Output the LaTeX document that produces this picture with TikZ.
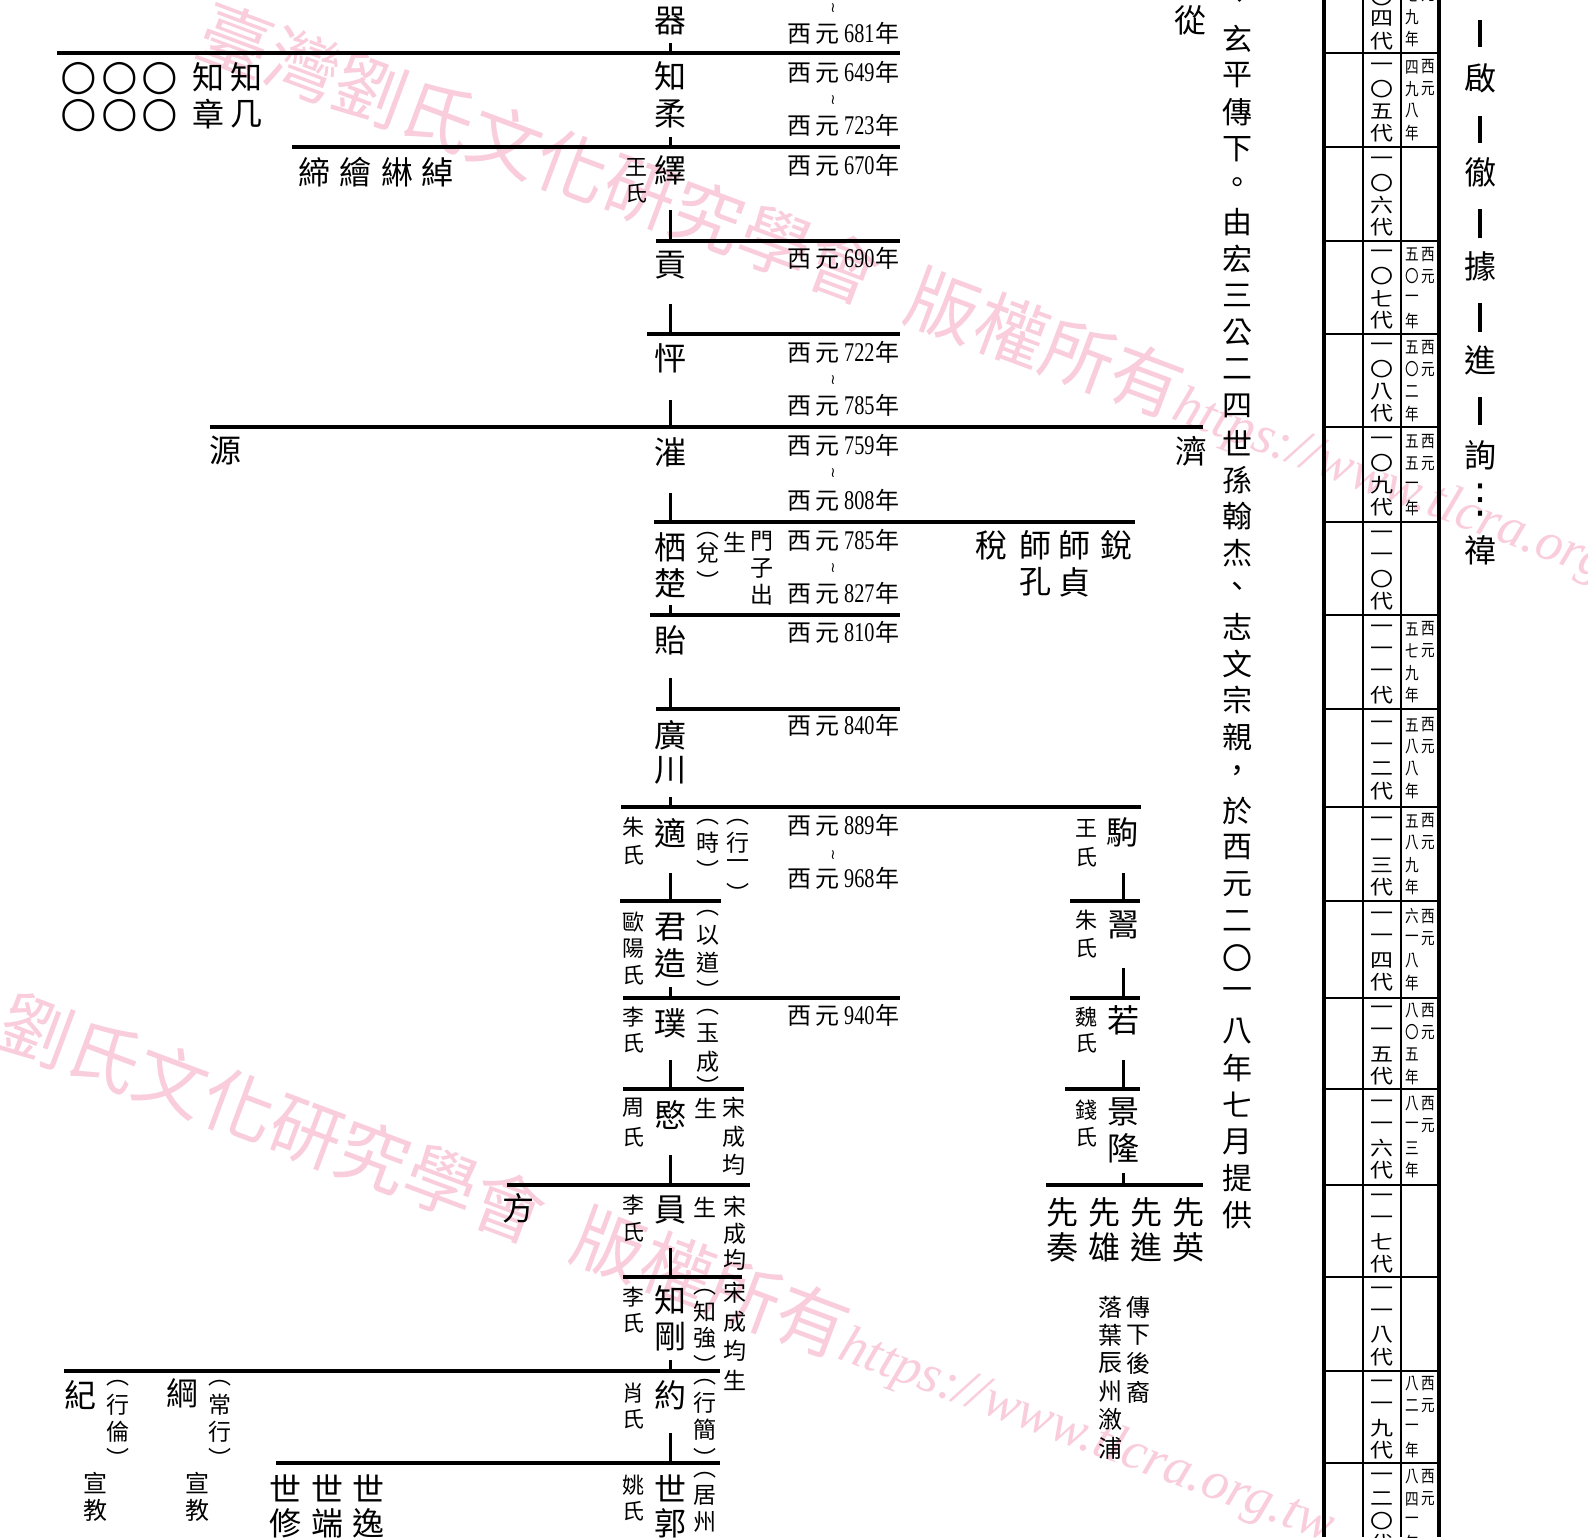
\documentclass[tikz,border=0pt]{standalone}
\usepackage{graphicx}
\usepackage{fontspec}
\setmainfont{Liberation Serif}
\newfontfamily\cjk{Noto Sans CJK TC}
\newfontfamily\dvs{DejaVu Sans}
\definecolor{wmpink}{RGB}{249,205,220}
\newcommand\dg[1]{\scalebox{0.75}[1]{\rmfamily\fontsize{13.5}{13.5}\selectfont #1}}
\newcommand\yr[1]{西\hspace{2pt}元\hspace{2.5pt}\dg{#1}\hspace{0.5pt}年}
\newcommand\vcol[5]{\foreach \c [count=\i from 0] in {#5}{\node[#4] at ({#1},{#2+\i*(#3)}) {\c};}}
\newcommand\gencell[3]{\pgfmathsetmacro\gcen{(#1+#2)/2}\foreach \c [count=\i from 0] in {#3}{\node[genfont] at (1382,{\gcen+(\i-1.5)*22}) {\scalebox{1}[0.85]{\c}};}}
\newcommand\yrcell[3]{\pgfmathsetmacro\ycen{(#1+#2)/2}\foreach \c [count=\i from 0] in {#3}{\node[yearfont] at (1412,{\ycen+(\i-1.5)*22}) {\scalebox{0.8}[1]{\c}};}\node[yearfont] at (1428,{\ycen-33}) {\scalebox{0.8}[1]{西}};\node[yearfont] at (1428,{\ycen-11}) {\scalebox{0.8}[1]{元}};}
\begin{document}
\begin{tikzpicture}[x=0.5pt,y=-0.5pt,
  namefont/.style={font=\cjk\fontsize{16}{16}\selectfont, inner sep=0pt},
  smallfont/.style={font=\cjk\fontsize{11}{11}\selectfont, inner sep=0pt},
  annfont/.style={font=\cjk\fontsize{11.5}{11.5}\selectfont, inner sep=0pt},
  popen/.style={annfont},
  pclose/.style={annfont, yshift=-4pt},
  notefont/.style={font=\cjk\fontsize{12}{12}\selectfont, inner sep=0pt},
  datefont/.style={font=\cjk\fontsize{12}{12}\selectfont, inner sep=0pt, anchor=east},
  tildefont/.style={font=\dvs\fontsize{7}{7}\selectfont, inner sep=0pt},
  textfont/.style={font=\cjk\fontsize{15}{15}\selectfont, inner sep=0pt},
  genfont/.style={font=\cjk\fontsize{11.5}{11.5}\selectfont, inner sep=0pt},
  yearfont/.style={font=\cjk\fontsize{8.5}{8.5}\selectfont, inner sep=0pt},
  circfont/.style={font=\dvs\fontsize{21}{21}\selectfont, inner sep=0pt},
  wmfont/.style={font=\cjk\fontsize{36}{36}\selectfont, text=wmpink, inner sep=0pt, anchor=west, rotate=-20.5},
  hrule/.style={line width=2.1pt},
  stubline/.style={line width=1.5pt},
  tabline/.style={line width=1.2pt},
  tabborder/.style={line width=2.2pt}]
\useasboundingbox (0,0) rectangle (1588,1537);
\fill[white] (0,0) rectangle (1588,1537);
% watermarks
\node[wmfont] (wm1) at (201,30) {臺灣劉氏文化研究學會\hspace{0.5em}版權所有{\rmfamily\itshape\fontsize{27}{27}\selectfont https://www.tlcra.org.tw}};
\node[wmfont] (wm2) at (2,1020) {劉氏文化研究學會\hspace{0.5em}版權所有{\rmfamily\itshape\fontsize{27}{27}\selectfont https://www.tlcra.org.tw}};
% horizontal generation lines
\draw[hrule] (57,53) -- (900,53);
\draw[hrule] (292,147) -- (900,147);
\draw[hrule] (656,241) -- (900,241);
\draw[hrule] (647,334) -- (900,334);
\draw[hrule] (210,427) -- (1203,427);
\draw[hrule] (654,522) -- (1135,522);
\draw[hrule] (650,615) -- (900,615);
\draw[hrule] (656,709) -- (900,709);
\draw[hrule] (621,807) -- (1141,807);
\draw[hrule] (620,901) -- (721,901);
\draw[hrule] (1070,901) -- (1140,901);
\draw[hrule] (623,998) -- (900,998);
\draw[hrule] (1070,998) -- (1140,998);
\draw[hrule] (623,1089) -- (744,1089);
\draw[hrule] (1065,1089) -- (1140,1089);
\draw[hrule] (507,1185) -- (750,1185);
\draw[hrule] (1046,1185) -- (1203,1185);
\draw[hrule] (623,1277) -- (742,1277);
\draw[hrule] (64,1371) -- (720,1371);
\draw[hrule] (276,1463) -- (720,1463);
% stubs
\foreach \a/\b in {43/53,137/147,210/241,304/334,400/427,493/522,605/615,678/709,797/807,873/901,987/998,1060/1089,1155/1185,1248/1277,1360/1371,1433/1463}
  \draw[stubline] (670,\a) -- (670,\b);
\foreach \a/\b in {873/901,968/998,1060/1089,1173/1185}
  \draw[stubline] (1123,\a) -- (1123,\b);
% table
\draw[tabborder] (1324,0) -- (1324,1537);
\draw[tabborder] (1439,0) -- (1439,1537);
\draw[tabline] (1363,0) -- (1363,1537);
\draw[tabline] (1401,0) -- (1401,1537);
\foreach \r in {53,147,241,334,427,522,615,709,807,901,998,1089,1185,1277,1371,1463}
  \draw[tabline] (1324,\r) -- (1439,\r);
% generation labels
\foreach \c [count=\i from 0] in {〇,四,代} {\node[genfont] at (1382,{-3+\i*22}) {\scalebox{1}[0.85]{\c}};}
\gencell{53}{147}{一,〇,五,代}
\gencell{147}{241}{一,〇,六,代}
\gencell{241}{334}{一,〇,七,代}
\gencell{334}{427}{一,〇,八,代}
\gencell{427}{522}{一,〇,九,代}
\gencell{522}{615}{一,一,〇,代}
\gencell{615}{709}{一,一,一,代}
\gencell{709}{807}{一,一,二,代}
\gencell{807}{901}{一,一,三,代}
\gencell{901}{998}{一,一,四,代}
\gencell{998}{1089}{一,一,五,代}
\gencell{1089}{1185}{一,一,六,代}
\gencell{1185}{1277}{一,一,七,代}
\gencell{1277}{1371}{一,一,八,代}
\gencell{1371}{1463}{一,一,九,代}
\gencell{1463}{1557}{一,二,〇,代}
% years
\foreach \c [count=\i from 0] in {七,九,年} {\node[yearfont] at (1412,{-5+\i*22}) {\scalebox{0.8}[1]{\c}};}
\node[yearfont] at (1428,-5) {\scalebox{0.8}[1]{元}};
\yrcell{53}{147}{四,九,八,年}
\yrcell{241}{334}{五,〇,一,年}
\yrcell{334}{427}{五,〇,二,年}
\yrcell{427}{522}{五,五,一,年}
\yrcell{615}{709}{五,七,九,年}
\yrcell{709}{807}{五,八,八,年}
\yrcell{807}{901}{五,八,九,年}
\yrcell{901}{998}{六,一,八,年}
\yrcell{998}{1089}{八,〇,五,年}
\yrcell{1089}{1185}{八,一,三,年}
\yrcell{1371}{1463}{八,二,一,年}
\yrcell{1463}{1557}{八,四,一,年}
% right-most column
\vcol{1480}{78}{94.2}{namefont}{啟,徹,據,進,詢}
\node[font=\dvs\fontsize{20}{20}\selectfont, inner sep=0pt] (dots) at (1480,500) {⋮};
\node[namefont] (yi) at (1480,550) {禕};
\foreach \a/\b in {20/47,116/143,209/238,303/332,397/425}
  \draw[line width=2pt] (1480,\a) -- (1480,\b);
% long vertical text
\foreach \c [count=\i from 0] in {、,玄,平,傳,下,。,由,宏,三,公,二,四,世,孫,翰,杰,、,志,文,宗,親,，,於,西,元,二,〇,一,八,年,七,月,提,供}
  {\node[textfont] at (1237,{1.7+\i*36.77}) {\c};}
% main line names
\node[namefont] (qi) at (670,21) {器};
\vcol{670}{76}{38}{namefont}{知,柔}
\node[namefont] (yi2) at (670,170) {繹};
\node[namefont] (gong) at (670,265) {貢};
\node[namefont] (peng) at (670,358) {怦};
\node[namefont] (cui) at (670,452) {漼};
\vcol{670}{547}{36}{namefont}{栖,楚}
\node[namefont] (yi3) at (670,640) {貽};
\vcol{670}{735}{35}{namefont}{廣,川}
\node[namefont] (shi) at (670,833) {適};
\vcol{670}{927}{36}{namefont}{君,造}
\node[namefont] (pu) at (670,1023) {璞};
\node[namefont] (min) at (670,1115) {愍};
\node[namefont] (yuan) at (670,1210) {員};
\vcol{670}{1300}{37}{namefont}{知,剛}
\node[namefont] (yue) at (670,1395) {約};
\vcol{670}{1488}{35}{namefont}{世,郭}
% wives
\vcol{636}{167}{26}{smallfont}{王,氏}
\vcol{633}{827}{28}{smallfont}{朱,氏}
\vcol{633}{922}{26.5}{smallfont}{歐,陽,氏}
\vcol{633}{1017}{26}{smallfont}{李,氏}
\vcol{633}{1108}{29}{smallfont}{周,氏}
\vcol{633}{1205}{27}{smallfont}{李,氏}
\vcol{633}{1297}{26}{smallfont}{李,氏}
\vcol{633}{1393}{26}{smallfont}{肖,氏}
\vcol{633}{1485}{26}{smallfont}{姚,氏}
% annotations beside main line
\node[popen] at (708,535) {︵};
\node[annfont] at (708,553) {兌};
\node[pclose] at (708,573) {︶};
\node[annfont] at (735,542) {生};
\vcol{762}{541}{27}{annfont}{門,子,出}
\node[popen] at (708,822) {︵};
\node[annfont] at (708,843) {時};
\node[pclose] at (708,862) {︶};
\node[popen] at (738,822) {︵};
\node[annfont] at (738,843) {行};
\node[annfont] at (738,865) {一};
\node[pclose] at (738,885) {︶};
\node[popen] at (708,913) {︵};
\node[annfont] at (708,935) {以};
\node[annfont] at (708,963) {道};
\node[pclose] at (708,982) {︶};
\node[popen] at (708,1012) {︵};
\node[annfont] at (708,1033) {玉};
\node[annfont] at (708,1062) {成};
\node[pclose] at (708,1078) {︶};
\node[annfont] at (706,1108) {生};
\vcol{734}{1108}{28.5}{annfont}{宋,成,均}
\node[annfont] at (705,1207) {生};
\vcol{735}{1207}{26.5}{annfont}{宋,成,均}
\node[popen] at (705,1292) {︵};
\node[annfont] at (705,1312) {知};
\node[annfont] at (705,1338) {強};
\node[pclose] at (705,1357) {︶};
\vcol{735}{1293}{29}{annfont}{宋,成,均,生}
\node[popen] at (705,1382) {︵};
\node[annfont] at (705,1403) {行};
\node[annfont] at (705,1430) {簡};
\node[pclose] at (705,1450) {︶};
\node[popen] at (705,1475) {︵};
\node[annfont] at (705,1495) {居};
\node[annfont] at (705,1522) {州};
% dates
\node[tildefont] at (833,8) {≀};
\node[datefont] at (900,33) {\yr{681}};
\node[datefont] at (900,72) {\yr{649}};
\node[tildefont] at (833,100) {≀};
\node[datefont] at (900,125) {\yr{723}};
\node[datefont] at (900,165) {\yr{670}};
\node[datefont] at (900,258) {\yr{690}};
\node[datefont] at (900,352) {\yr{722}};
\node[tildefont] at (833,380) {≀};
\node[datefont] at (900,405) {\yr{785}};
\node[datefont] at (900,445) {\yr{759}};
\node[tildefont] at (833,473) {≀};
\node[datefont] at (900,500) {\yr{808}};
\node[datefont] at (900,540) {\yr{785}};
\node[tildefont] at (833,568) {≀};
\node[datefont] at (900,593) {\yr{827}};
\node[datefont] at (900,632) {\yr{810}};
\node[datefont] at (900,725) {\yr{840}};
\node[datefont] at (900,825) {\yr{889}};
\node[tildefont] at (833,855) {≀};
\node[datefont] at (900,878) {\yr{968}};
\node[datefont] at (900,1015) {\yr{940}};
% top-left
\foreach \x in {79,120,160} {\node[circfont] at (\x,79) {○}; \node[circfont] at (\x,116) {○};}
\node[namefont] at (208,77) {知};
\node[namefont] at (246,77) {知};
\node[namefont] at (208,114) {章};
\node[namefont] at (246,114) {几};
\node[namefont] at (314,172) {締};
\node[namefont] at (355,172) {繪};
\node[namefont] at (397,172) {綝};
\node[namefont] at (437,172) {綽};
\node[namefont] (yuan2) at (225,451) {源};
\node[namefont] (fang) at (518,1208) {方};
% right branches
\node[namefont] (cong) at (1190,20) {從};
\node[namefont] (ji) at (1191,451) {濟};
\node[namefont] at (991,545) {稅};
\node[namefont] at (1035,545) {師};
\node[namefont] at (1074,545) {師};
\node[namefont] at (1116,545) {銳};
\node[namefont] at (1035,582) {孔};
\node[namefont] at (1074,582) {貞};
\node[namefont] (ju) at (1122,832) {駒};
\vcol{1086}{828}{29}{smallfont}{王,氏}
\node[namefont] (he) at (1123,925) {翯};
\vcol{1086}{920}{28}{smallfont}{朱,氏}
\node[namefont] (ruo) at (1123,1020) {若};
\vcol{1086}{1017}{26}{smallfont}{魏,氏}
\vcol{1123}{1112}{36}{namefont}{景,隆}
\vcol{1086}{1110}{27}{smallfont}{錢,氏}
\foreach \x/\a/\b in {1062/先/奏,1104/先/雄,1146/先/進,1188/先/英}
  {\node[namefont] at (\x,1212) {\a}; \node[namefont] at (\x,1247) {\b};}
\vcol{1138}{1307}{28.3}{notefont}{傳,下,後,裔}
\vcol{1110}{1307}{28.2}{notefont}{落,葉,辰,州,漵,浦}
% bottom-left
\node[namefont] (ji2) at (80,1395) {紀};
\node[popen] at (118,1383) {︵};
\node[annfont] at (118,1405) {行};
\node[annfont] at (118,1432) {倫};
\node[pclose] at (118,1450) {︶};
\node[namefont] (gang) at (182,1393) {綱};
\node[popen] at (220,1383) {︵};
\node[annfont] at (220,1405) {常};
\node[annfont] at (220,1432) {行};
\node[pclose] at (220,1450) {︶};
\vcol{95}{1483}{27}{notefont}{宣,教}
\vcol{197}{1483}{27}{notefont}{宣,教}
\foreach \x/\a/\b in {285/世/修,327/世/端,368/世/逸}
  {\node[namefont] at (\x,1488) {\a}; \node[namefont] at (\x,1523) {\b};}
\end{tikzpicture}
\end{document}
